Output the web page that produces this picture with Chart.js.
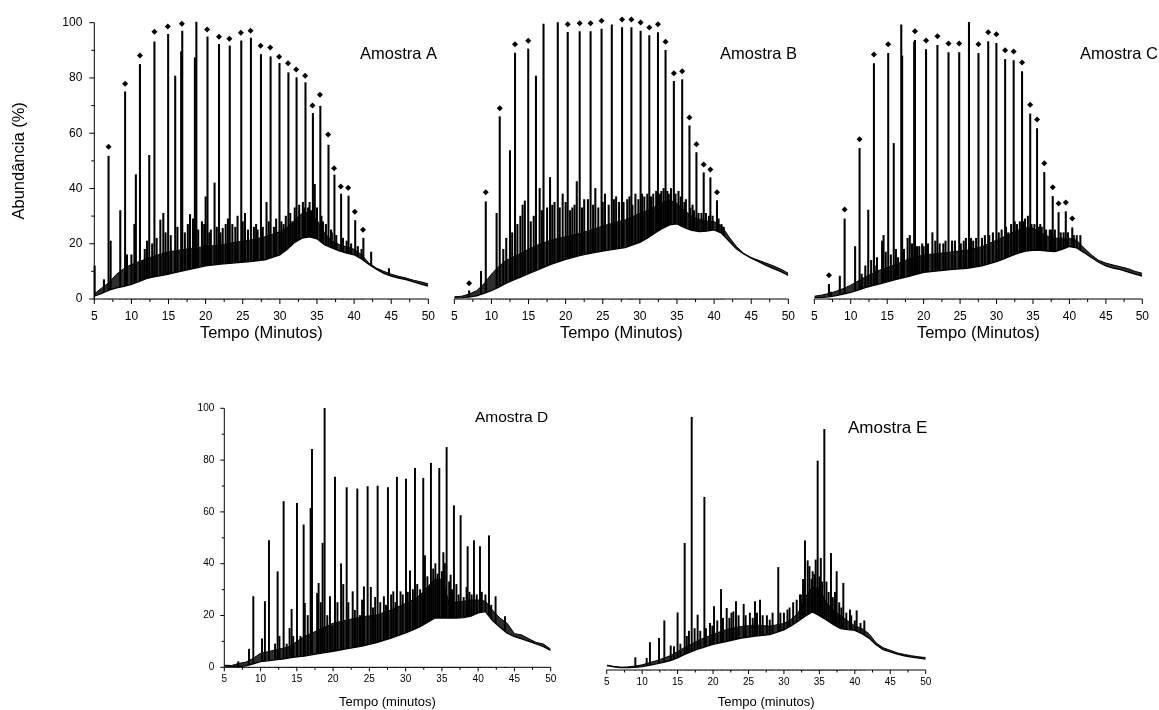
<!DOCTYPE html>
<html lang="pt">
<head>
<meta charset="UTF-8">
<title>Cromatogramas - Amostras A a E</title>
<script src="https://cdn.jsdelivr.net/npm/chart.js"></script>
<style>
  body { margin: 0; background: #fff; }
  #page { position: relative; width: 1159px; height: 710px; overflow: hidden; }
  canvas { position: absolute; }
</style>
</head>
<body>
<div id="page">
  <canvas id="chartA" width="445" height="343" style="left:0px;top:0px"></canvas>
  <canvas id="chartB" width="365" height="343" style="left:440px;top:0px"></canvas>
  <canvas id="chartC" width="359" height="343" style="left:800px;top:0px"></canvas>
  <canvas id="chartD" width="415" height="320" style="left:150px;top:390px"></canvas>
  <canvas id="chartE" width="365" height="320" style="left:575px;top:390px"></canvas>
</div>
<script>
// axis ticks
const xTickValues = [5, 10, 15, 20, 25, 30, 35, 40, 45, 50];
const xMinorValues = [7.5, 12.5, 17.5, 22.5, 27.5, 32.5, 37.5, 42.5, 47.5];
const yTickValues = [0, 20, 40, 60, 80, 100];
const yMinorValues = [10, 30, 50, 70, 90];

// time grid for the baseline envelopes (minutes)
const envTime = [5, 6, 7, 8, 9, 10, 11, 12, 13, 14, 15, 16, 18, 20, 22, 24, 26, 28, 30, 31, 32, 33, 34, 35, 36, 37, 38, 39, 40, 41, 42, 43, 44, 45, 46, 47, 48, 49, 50];

// Amostra A
const aLow  = [1, 2, 3.2, 4, 4.6, 5.3, 6.3, 7.4, 8, 8.5, 9, 9.6, 10.8, 12, 12.6, 13.1, 13.5, 14.2, 16, 18, 20.5, 22, 22.5, 21.8, 19.7, 18.5, 17.4, 16.6, 16, 14.5, 12.5, 10.8, 9.3, 8.3, 7.6, 7, 6.2, 5.4, 4.7];
const aHigh = [1.8, 4, 6, 9, 11, 12.5, 13.5, 14.5, 15.5, 16.3, 17, 17.5, 18.3, 19, 19.5, 20.5, 21.3, 22.5, 24.4, 26, 28.5, 31, 31.5, 28.6, 24, 21, 19.7, 18.8, 18, 16, 13, 11.2, 10, 9, 8.2, 7.6, 6.8, 6.2, 5.5];
const aPeakTime = [6.92, 9.15, 11.15, 13.1, 14.95, 16.85, 18.75, 20.25, 21.8, 23.25, 24.8, 26.1, 27.45, 28.75, 29.95, 31.15, 32.25, 33.45, 34.45, 35.45, 36.55, 37.35, 38.25, 39.25, 40.15, 41.25,
  5.05, 6.3, 7.2, 8.5, 9.4, 10.0, 10.4, 10.6, 11.5, 12.1, 12.4, 13.9, 14.3, 15.9, 16.7, 17.9, 18.3, 18.55, 19.5, 20.0, 20.7, 21.2, 22.3, 23.0, 23.6, 24.3, 25.3, 26.5, 27.0, 28.2, 29.5, 30.5, 31.7, 33.1, 33.8, 34.7, 35.8, 36.9, 42.3, 44.7];
const aPeakTop = [51.7, 75, 84.9, 93.1, 95.8, 97, 100.2, 94.9, 92.2, 91.6, 93.4, 94.4, 88.5, 87.7, 85.3, 81.9, 80.1, 78.3, 67.2, 69.8, 55.7, 44.9, 38, 37.3, 28.4, 22,
  12, 7, 21, 32, 16, 16, 27, 45, 14, 21, 52, 28.6, 31, 80.7, 89.5, 30.6, 29, 87.3, 28, 37, 25, 42, 25.6, 29, 27, 30, 31, 26, 25, 35, 29, 27, 28, 35, 33, 41.5, 28, 25, 17, 11];
const aGrassTime = [11.8, 12.8, 13.4, 14.6, 15.3, 16.2, 17.2, 17.6, 19.0, 19.8, 20.5, 21.5, 22.0, 22.7, 24.0, 25.0, 25.7, 26.8, 27.7, 28.5, 29.2, 30.2, 30.8, 31.4, 32.0, 32.6, 33.3, 34.0, 34.2, 35.0, 35.6, 36.2, 37.0, 37.6, 38.5, 39.0, 39.6, 40.5, 41.0];
const aGrassTop  = [18, 20, 22, 24, 23, 26, 24, 27, 25, 27, 24, 26, 24, 27, 26, 28, 25, 27, 26, 28, 26, 28, 30, 31, 33, 34, 33, 35, 32, 33, 30, 27, 24, 23, 22, 21, 20, 19, 18];
const aMarkTime = [6.92, 9.15, 11.15, 13.1, 14.9, 16.8, 18.7, 20.2, 21.8, 23.2, 24.75, 26.05, 27.4, 28.7, 29.9, 31.1, 32.2, 33.4, 34.4, 35.4, 36.5, 37.3, 38.2, 39.2, 40.1, 41.2];
const aMarkValue = [55.1, 77.9, 88.1, 96.7, 98.6, 99.6, 102.9, 97.5, 94.9, 94.2, 96.4, 97.1, 91.7, 91.0, 87.7, 85.3, 83.1, 80.8, 70.0, 73.9, 59.5, 47.3, 40.7, 40.3, 31.6, 25.1];

// Amostra B
const bLow  = [0.4, 0.5, 0.7, 1.1, 2, 3, 4.3, 5.7, 6.9, 8, 9.2, 10.3, 12.5, 14.3, 15.8, 16.9, 17.8, 18.6, 20.5, 22, 23.8, 25.5, 26.8, 27.2, 25.8, 24.8, 24.4, 24.6, 25, 23.8, 21, 18.2, 16.3, 14.8, 13.5, 12.2, 11, 9.9, 8.5];
const bHigh = [0.8, 1, 1.8, 3, 5.5, 9, 11.8, 14, 15.3, 16.5, 18, 19.3, 21.3, 22.5, 23.8, 25.5, 27.2, 28.6, 31, 32, 33.4, 35, 35.8, 34.6, 32, 30, 28.8, 28.2, 28, 26.5, 22.5, 19, 16.5, 15, 14, 13, 12, 10.8, 9.3];
const bPeakTime = [7.0, 9.24, 11.12, 13.18, 14.96, 17.02, 18.94, 20.28, 21.89, 23.36, 24.84, 26.22, 27.6, 28.86, 30.1, 31.27, 32.44, 33.46, 34.58, 35.7, 36.68, 37.62, 38.6, 39.5, 40.39,
  8.6, 10.7, 11.6, 12.5, 13.9, 14.2, 14.5, 16.0, 16.5, 17.9, 18.5, 19.6, 20.9, 21.5, 22.5, 23.0, 24.0, 25.3, 26.8, 27.2, 28.3, 29.4, 30.6, 31.8, 32.9, 33.9, 34.2, 35.2, 36.2, 37.1, 41.0];
const bPeakTop = [3, 35.2, 66, 89, 90.5, 99.5, 100, 96.5, 96.8, 96.8, 97.7, 99.2, 98.2, 98.2, 97, 95.3, 96.4, 90, 78.8, 79.4, 62.7, 53, 45.7, 43.9, 35.6,
  10, 31, 18, 53.7, 30, 34, 35.5, 80.7, 40, 44, 35, 38, 33, 42.5, 36, 36, 40, 38, 37, 35, 36, 38, 37, 38, 39, 38, 40, 39, 36, 34, 27];
const bGrassTime = [12.0, 12.8, 13.5, 15.3, 15.7, 16.8, 17.5, 18.2, 19.2, 20.0, 20.6, 21.2, 22.2, 23.7, 24.4, 25.0, 25.8, 26.5, 27.8, 28.6, 29.0, 29.8, 30.3, 31.0, 31.5, 32.2, 32.7, 33.2, 33.7, 34.8, 35.5, 36.0, 36.8, 37.3, 37.9, 38.3, 38.9, 39.3, 39.8, 40.6, 41.3];
const bGrassTop  = [22, 24, 27, 28, 30, 32, 33, 34, 33, 35, 32, 34, 33, 34, 33, 35, 34, 36, 35, 37, 34, 36, 38, 38, 37, 39, 38, 40, 39, 38, 37, 35, 33, 32, 31, 31, 31, 30, 30, 29, 26];
const bMarkTime = [7.0, 9.24, 11.12, 13.18, 14.96, 17.02, 18.94, 20.28, 21.89, 23.36, 24.84, 26.22, 27.6, 28.86, 30.1, 31.27, 32.44, 33.46, 34.58, 35.7, 36.68, 37.62, 38.6, 39.5, 40.39];
const bMarkValue = [5.7, 38.6, 69.0, 92.2, 93.5, 102.3, 102.7, 99.4, 99.8, 99.8, 100.7, 102.2, 101.2, 101.2, 100.1, 98.3, 99.4, 93.1, 81.7, 82.4, 65.7, 56.0, 48.7, 46.9, 38.6];

// Amostra C
const cLow  = [0.5, 0.6, 0.8, 1.2, 1.8, 2.4, 3.2, 4.1, 4.8, 5.5, 6.2, 6.9, 8.2, 9.6, 10.2, 10.7, 11.1, 12, 13.5, 14.5, 15.6, 16.6, 17.3, 17.6, 17.6, 17.3, 17.2, 18, 19, 18.5, 16.8, 15, 13.3, 12, 11.2, 10.6, 9.8, 9, 8.3];
const cHigh = [1, 1.4, 2, 2.8, 3.8, 5, 6.5, 8, 9.3, 10.5, 11.4, 12.3, 14.5, 15.9, 16.5, 17.1, 17.7, 18.9, 21.3, 22.5, 23.8, 25, 25.8, 25.6, 24, 22.8, 22, 22, 22, 21.2, 18.5, 16, 14, 13, 12.3, 11.7, 11, 10, 9.3];
const cPeakTime = [7.01, 9.16, 11.21, 13.18, 15.14, 16.93, 18.81, 20.33, 21.89, 23.41, 24.88, 26.22, 27.52, 28.86, 29.98, 31.18, 32.35, 33.5, 34.62, 35.56, 36.55, 37.71, 38.51, 39.5, 40.39,
  7.3, 8.5, 10.6, 11.5, 12.4, 13.5, 14.3, 14.5, 15.9, 16.5, 17.05, 17.8, 18.1, 18.7, 19.4, 19.8, 21.2, 22.7, 23.9, 25.5, 26.8, 28.0, 30.3, 31.6, 32.8, 33.9, 34.3, 35.2, 36.2, 37.3, 41.5];
const cPeakTop = [5.3, 29, 54.5, 85.2, 88.9, 99.2, 93.6, 90.3, 91.8, 89.2, 89.2, 100.1, 88.9, 93.2, 92.5, 86.7, 86.3, 82.3, 67, 61.7, 45.8, 37.1, 31.3, 31.6, 25.8,
  2.5, 8.3, 19, 9, 32.2, 12, 21, 23, 56.3, 15, 88, 22, 23, 93, 19, 20, 24, 20, 21, 21, 21, 22, 24, 24, 27, 29, 30, 27, 26, 25, 23];
const cGrassTime = [12.0, 12.8, 13.6, 14.8, 15.5, 16.2, 17.3, 18.4, 19.1, 20.0, 20.6, 21.6, 22.2, 23.0, 24.3, 25.1, 25.8, 26.5, 27.2, 28.4, 29.0, 29.5, 30.7, 31.3, 32.0, 32.5, 33.2, 33.7, 34.8, 35.8, 36.0, 36.8, 37.5, 38.0, 38.8, 39.2, 39.8, 40.6, 41.0];
const cGrassTop  = [12, 14, 15, 17, 16, 18, 18, 20, 19, 19, 20, 21, 20, 21, 21, 20, 22, 22, 22, 23, 23, 24, 25, 26, 27, 28, 28, 28, 27, 26, 27, 25, 25, 25, 24, 24, 24, 23, 23];
const cMarkTime = [7.01, 9.16, 11.21, 13.18, 15.14, 16.93, 18.81, 20.33, 21.89, 23.41, 24.88, 26.22, 27.52, 28.86, 29.98, 31.18, 32.35, 33.5, 34.62, 35.56, 36.55, 37.71, 38.51, 39.5, 40.39];
const cMarkValue = [8.6, 32.4, 57.8, 88.5, 92.2, 102.5, 96.9, 93.6, 95.1, 92.5, 92.5, 103.4, 92.2, 96.5, 95.8, 90.0, 89.6, 85.6, 70.3, 65.0, 49.1, 40.4, 34.6, 34.9, 29.1];

// Amostra D
const dLow  = [0.5, 0.4, 0.3, 0.6, 1.3, 2.2, 2.5, 2.9, 3.2, 3.6, 4, 4.3, 5.3, 6.2, 7.2, 8.2, 9.5, 11.3, 13.3, 14.4, 15.7, 17.3, 19, 19, 19, 19, 19.2, 19.8, 21, 21.5, 18, 15.5, 13.2, 11.8, 11, 10, 9, 8, 6.5];
const dHigh = [0.8, 0.7, 1.5, 2, 3.5, 5.4, 6, 6.7, 7.3, 8, 10, 11.8, 14.4, 17, 18.3, 19.5, 20.2, 22.1, 24.7, 26, 27.9, 31, 34, 34, 25, 25.2, 25.5, 26, 26, 25.5, 22, 19, 17, 13, 12.5, 11, 9.6, 9, 7];
const dPeakTime = [6.93, 8.4, 9.0, 10.6, 11.16, 12.35, 13.18, 14.28, 15.02, 15.94, 16.1, 16.9, 17.09, 17.8, 18.0, 18.55, 18.83, 19.57, 20.26, 21.1, 21.87, 22.7, 23.34, 24.25, 24.76, 25.2, 26.14, 27.0, 27.56, 28.3, 28.8, 29.3, 30.05, 30.6, 31.29, 32.3, 32.43, 32.66, 33.26, 33.49, 34.64, 35.2, 35.4, 35.65, 36.2, 36.66, 37.58, 38.4, 38.55, 39.42, 40.25, 41.49, 42.4, 43.7];
const dPeakTop  = [2.2, 7, 27.3, 25.4, 48.9, 36.9, 64, 22.4, 63.3, 55, 24.7, 61.4, 84.2, 28.6, 32.4, 47.9, 100, 27.3, 73.4, 40, 69.4, 29.2, 68.9, 31.1, 69.8, 30.9, 70, 27.3, 69.4, 29.2, 73.4, 29.2, 72.7, 37.2, 76.8, 28.6, 73, 43.1, 31.1, 78.8, 76.8, 44.3, 40.1, 84.9, 35.6, 62.4, 58.6, 30.9, 46.6, 48.9, 46.6, 50.8, 27.3, 19.6];
const dGrassTime = [10.2, 12.0, 12.6, 13.6, 14.0, 14.5, 15.5, 16.5, 18.3, 19.2, 19.9, 20.6, 21.4, 22.1, 23.0, 23.7, 24.0, 25.5, 25.8, 26.5, 27.3, 28.0, 28.6, 29.6, 30.3, 31.0, 31.6, 32.0, 33.0, 33.8, 34.1, 34.4, 35.0, 36.0, 36.4, 37.0, 37.3, 38.0, 38.8, 39.1, 39.8, 40.5, 41.0, 41.8];
const dGrassTop  = [11, 9, 12, 9, 15, 12, 12, 20, 25, 20, 16, 25, 32, 25, 22, 20, 26, 23, 27, 25, 24, 28, 25, 28, 29, 30, 32, 30, 35, 38, 40, 36, 37, 33, 30, 32, 28, 27, 29, 28, 28, 29, 28, 24];

// Amostra E
const eLow  = [1.7, 1.2, 0.9, 0.9, 1, 1.3, 1.8, 2.4, 2.9, 3.6, 4.7, 6, 8.2, 9.9, 11.1, 12.3, 13.1, 13.7, 15.5, 17, 18.8, 20.8, 22.4, 21, 19.3, 17.5, 16, 15.6, 15.3, 14, 12.3, 9.8, 7.9, 7, 6.1, 5.5, 5, 4.6, 4.2];
const eHigh = [1.9, 1.4, 1.1, 1.2, 1.5, 2, 2.8, 3.6, 4.5, 5.6, 7.1, 8.7, 11.5, 13.8, 15.7, 16.8, 17.4, 16.9, 18, 19.5, 22, 28, 32, 31.5, 26, 23, 21, 19, 17, 16, 14, 10.5, 8.6, 7.6, 6.6, 6, 5.5, 5.1, 4.8];
const ePeakTime = [9.04, 10.64, 11.1, 12.38, 13.13, 14.03, 15.0, 16.0, 16.99, 17.83, 18.78, 19.57, 20.14, 21.13, 21.93, 22.87, 23.24, 24.32, 25.92, 26.63, 28.0, 29.2, 30.5, 32.27, 32.97, 33.35, 34.05, 34.48, 34.76, 35.2, 35.7, 36.64, 37.44, 38.38, 39.32, 40.26, 41.34];
const ePeakTop  = [4.8, 4.5, 10.6, 12.2, 19, 9.3, 22.1, 48.9, 97.6, 21.2, 66.7, 18, 24.5, 31.1, 23.8, 22.5, 26.4, 25.4, 26.4, 27, 19.3, 39.6, 23.2, 29, 49.9, 42.2, 38, 42.5, 80.7, 43.1, 92.9, 45, 38, 33.5, 23.2, 22.9, 19];
const eGrassTime = [14.5, 15.4, 16.3, 16.6, 17.4, 18.2, 19.0, 19.9, 20.6, 21.4, 22.3, 22.6, 23.6, 24.6, 25.2, 25.6, 26.2, 27.0, 27.6, 28.4, 29.5, 30.0, 30.8, 31.3, 31.8, 32.4, 32.7, 33.6, 33.9, 34.3, 35.0, 35.4, 36.0, 36.3, 36.9, 37.2, 37.8, 38.1, 38.8, 39.5, 40.0, 40.8];
const eGrassTop  = [9, 10, 13, 15, 16, 15, 16, 17, 19, 20, 20, 22, 21, 21, 22, 20, 22, 21, 21, 22, 22, 22, 24, 26, 27, 29, 35, 40, 35, 37, 36, 34, 34, 30, 28, 30, 26, 24, 22, 21, 19, 18];

const fontFamily = "'Liberation Sans', Arial, sans-serif";

function toPoints(xs, ys) {
  return xs.map((x, i) => ({ x: x, y: ys[i] }));
}

// draws the axis lines, major/minor tick marks and the sample label
const chromAxes = {
  id: 'chromAxes',
  afterDatasetsDraw(chart, args, o) {
    const ctx = chart.ctx;
    const xs = chart.scales.x, ys = chart.scales.y;
    const y0 = ys.getPixelForValue(0);
    const x0 = xs.getPixelForValue(xTickValues[0]);
    ctx.save();
    ctx.strokeStyle = '#000';
    ctx.lineWidth = 1;
    ctx.beginPath();
    ctx.moveTo(x0, y0);
    ctx.lineTo(xs.getPixelForValue(xTickValues[xTickValues.length - 1]), y0);
    xTickValues.forEach(v => {
      const px = xs.getPixelForValue(v);
      ctx.moveTo(px, y0); ctx.lineTo(px, y0 + o.major);
    });
    xMinorValues.forEach(v => {
      const px = xs.getPixelForValue(v);
      ctx.moveTo(px, y0); ctx.lineTo(px, y0 + o.minor);
    });
    if (o.yAxis) {
      ctx.moveTo(x0, y0);
      ctx.lineTo(x0, ys.getPixelForValue(yTickValues[yTickValues.length - 1]));
      yTickValues.forEach(v => {
        const py = ys.getPixelForValue(v);
        ctx.moveTo(x0, py); ctx.lineTo(x0 - o.major, py);
      });
      yMinorValues.forEach(v => {
        const py = ys.getPixelForValue(v);
        ctx.moveTo(x0, py); ctx.lineTo(x0 - o.minor, py);
      });
    }
    ctx.stroke();
    ctx.fillStyle = '#000';
    ctx.font = o.labelSize + 'px ' + fontFamily;
    ctx.textBaseline = 'middle';
    ctx.textAlign = 'left';
    ctx.fillText(o.label, o.labelX, o.labelY);
    ctx.restore();
  }
};

function makeChart(id, p) {
  const datasets = [
    { type: 'line', data: toPoints(envTime, p.low), borderColor: '#000', borderWidth: 1.3,
      backgroundColor: '#fff', fill: 'origin', pointRadius: 0, order: 3 },
    { type: 'line', data: toPoints(envTime, p.high), borderColor: '#000', borderWidth: 1,
      backgroundColor: 'rgba(0,0,0,0.82)', fill: 0, pointRadius: 0, order: 4 },
    { type: 'bar', data: toPoints(p.peakTime.concat(p.grassTime), p.peakTop.concat(p.grassTop)),
      backgroundColor: '#000', barThickness: p.bar, order: 5, clip: false }
  ];
  if (p.markTime) {
    datasets.push({ type: 'line', data: toPoints(p.markTime, p.markValue), showLine: false,
      pointStyle: 'rectRot', pointRadius: 3, pointBackgroundColor: '#000', pointBorderWidth: 0,
      order: 1, clip: false });
  }

  new Chart(document.getElementById(id), {
    type: 'line',
    data: { datasets: datasets },
    plugins: [chromAxes],
    options: {
      responsive: false,
      animation: false,
      layout: { padding: p.padding },
      plugins: {
        legend: { display: false },
        tooltip: { enabled: false },
        chromAxes: { major: p.major, minor: p.minor, yAxis: p.yAxis,
          label: p.label, labelX: p.labelX, labelY: p.labelY, labelSize: p.labelSize }
      },
      scales: {
        x: {
          type: 'linear', min: 5, max: 50, offset: false,
          afterBuildTicks: s => { s.ticks = xTickValues.map(v => ({ value: v })); },
          afterFit: s => { s.height = p.xh; },
          grid: { display: false, drawTicks: false },
          border: { display: false },
          ticks: { font: { family: fontFamily, size: p.tick }, color: '#000', padding: p.xpad,
            maxRotation: 0, autoSkip: false },
          title: { display: true, text: p.xTitle, color: '#000', padding: 0,
            font: { family: fontFamily, size: p.titleSize } }
        },
        y: {
          type: 'linear', min: 0, max: 100, display: p.yAxis,
          afterBuildTicks: s => { s.ticks = yTickValues.map(v => ({ value: v })); },
          afterFit: s => { s.width = p.yw; },
          grid: { display: false, drawTicks: false },
          border: { display: false },
          ticks: { font: { family: fontFamily, size: p.tick }, color: '#000', padding: p.ypad },
          title: { display: !!p.yTitle, text: p.yTitle || '', color: '#000',
            padding: { top: 10, bottom: 0 }, font: { family: fontFamily, size: p.titleSize } }
        }
      }
    }
  });
}

const topPanel = { tick: 12, titleSize: 16.5, xh: 44, xpad: 10, ypad: 12, major: 5, minor: 3, bar: 1.4, labelSize: 16.5, xTitle: 'Tempo (Minutos)' };
const bottomPanel = { tick: 10, titleSize: 13, xpad: 6, ypad: 10, major: 4, minor: 2.5, bar: 1.3, xTitle: 'Tempo (minutos)' };

makeChart('chartA', Object.assign({}, topPanel, {
  low: aLow, high: aHigh, peakTime: aPeakTime, peakTop: aPeakTop, grassTime: aGrassTime, grassTop: aGrassTop,
  markTime: aMarkTime, markValue: aMarkValue,
  padding: { left: 0, right: 14.3, top: 22.7, bottom: 0 }, yAxis: true, yw: 94.3, yTitle: 'Abundância (%)',
  label: 'Amostra A', labelX: 360, labelY: 54
}));
makeChart('chartB', Object.assign({}, topPanel, {
  low: bLow, high: bHigh, peakTime: bPeakTime, peakTop: bPeakTop, grassTime: bGrassTime, grassTop: bGrassTop,
  markTime: bMarkTime, markValue: bMarkValue,
  padding: { left: 14.3, right: 15, top: 22.7, bottom: 0 }, yAxis: false, yw: 0,
  label: 'Amostra B', labelX: 280, labelY: 54
}));
makeChart('chartC', Object.assign({}, topPanel, {
  low: cLow, high: cHigh, peakTime: cPeakTime, peakTop: cPeakTop, grassTime: cGrassTime, grassTop: cGrassTop,
  markTime: cMarkTime, markValue: cMarkValue,
  padding: { left: 14.3, right: 9, top: 22.7, bottom: 0 }, yAxis: false, yw: 0,
  label: 'Amostra C', labelX: 280, labelY: 54
}));
makeChart('chartD', Object.assign({}, bottomPanel, {
  low: dLow, high: dHigh, peakTime: dPeakTime, peakTop: dPeakTop, grassTime: dGrassTime, grassTop: dGrassTop,
  padding: { left: 0, right: 14.3, top: 18.3, bottom: 0 }, yAxis: true, yw: 74.3, xh: 42.7,
  label: 'Amostra D', labelX: 325, labelY: 28, labelSize: 15.5
}));
makeChart('chartE', Object.assign({}, bottomPanel, {
  low: eLow, high: eHigh, peakTime: ePeakTime, peakTop: ePeakTop, grassTime: eGrassTime, grassTop: eGrassTop,
  padding: { left: 31.7, right: 14.3, top: 21, bottom: 0 }, yAxis: false, yw: 0, xh: 40,
  label: 'Amostra E', labelX: 273, labelY: 38, labelSize: 17
}));
</script>
</body>
</html>
